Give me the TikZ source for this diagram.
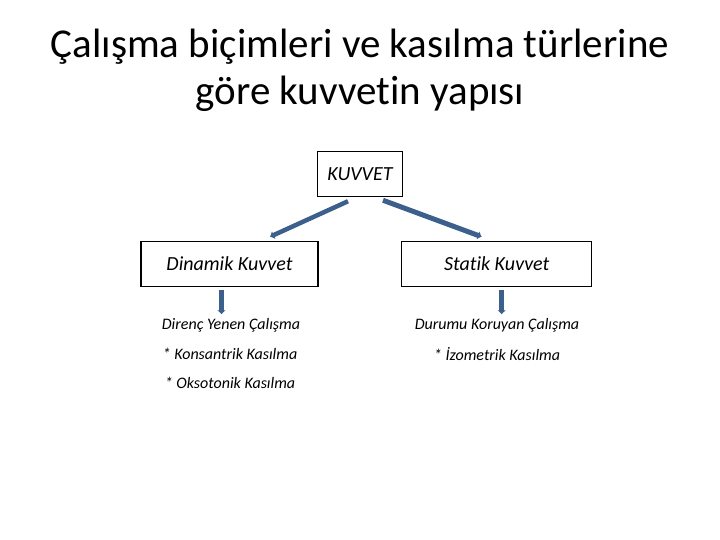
\documentclass[tikz,border=0pt]{standalone}
\usepackage{fontspec}
\setmainfont{Carlito}[Ligatures=NoCommon]
\usetikzlibrary{arrows.meta}
\definecolor{linkblue}{RGB}{61,95,140}

\begin{document}
\begin{tikzpicture}[x=1pt,y=-1pt]
    \tikzstyle{box}=[rectangle,draw,line width=1.5pt,inner sep=0pt,minimum height=45pt,font=\fontsize{20}{24}\selectfont\itshape]
    \tikzstyle{item}=[inner sep=0pt,font=\fontsize{16}{19}\selectfont\itshape]
    \tikzstyle{link}=[line width=5pt,linkblue,-{Latex[length=4pt,width=9pt]}]
    \useasboundingbox (0,0) rectangle (720,540);
    \node (title) at (360,70) [align=center,font=\fontsize{41}{47}\selectfont] {Çalışma biçimleri ve kasılma türlerine\\göre kuvvetin yapısı};
    \node (kuvvet)  at (360,174)   [box,minimum width=85pt]  {KUVVET};
    \node (dinamik) at (229.5,264) [box,minimum width=177pt] {Dinamik Kuvvet};
    \node (statik)  at (496.7,264) [box,minimum width=190pt] {Statik Kuvvet};
    \node (direnc)     at (231,325) [item] {Direnç Yenen Çalışma};
    \node (konsantrik) at (230,354) [item] {* Konsantrik Kasılma};
    \node (oksotonik)  at (230,383) [item] {* Oksotonik Kasılma};
    \node (durumu)     at (497,325) [item] {Durumu Koruyan Çalışma};
    \node (izometrik)  at (497,354) [item] {* İzometrik Kasılma};
    \draw [link,line width=4.5pt] ([xshift=-12pt,yshift=-4pt]kuvvet.south) -- ([xshift=40.5pt,yshift=4pt]dinamik.north);
    \draw [link] ([xshift=23pt,yshift=-3pt]kuvvet.south) -- ([xshift=-15pt,yshift=4pt]statik.north);
    \draw [link] ([xshift=-8pt,yshift=-3pt]dinamik.south) -- ([xshift=-8pt,yshift=-27pt]dinamik.south);
    \draw [link] ([xshift=5pt,yshift=-3pt]statik.south) -- ([xshift=5pt,yshift=-27pt]statik.south);
\end{tikzpicture}
\end{document}
